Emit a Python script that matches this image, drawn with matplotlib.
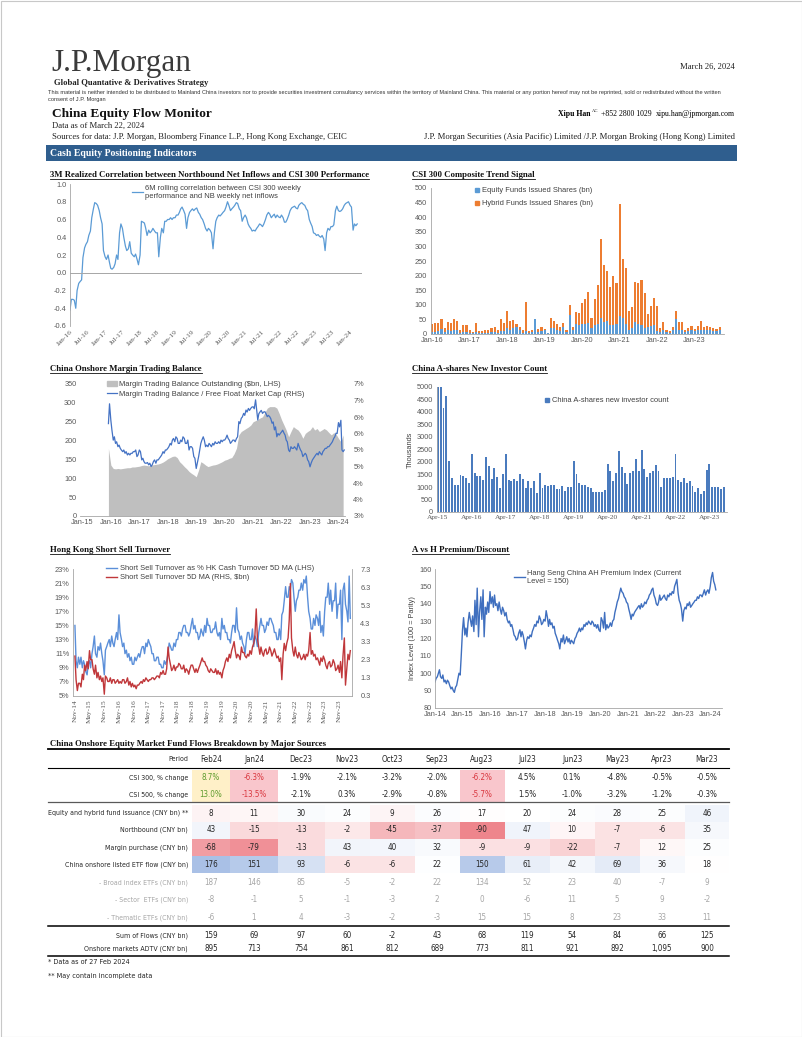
import numpy as np
import pandas as pd
import matplotlib
matplotlib.use("Agg")
import matplotlib.pyplot as plt
from matplotlib.patches import Rectangle, Patch
from matplotlib.lines import Line2D
from matplotlib.colors import LinearSegmentedColormap, TwoSlopeNorm
from matplotlib import font_manager
from matplotlib.font_manager import FontProperties
from matplotlib.textpath import TextPath

W, H = 802, 1037
SERIF = "Liberation Serif"
SANS = "Liberation Sans"

# narrow sans for the table, if one is installed
_fonts = font_manager.fontManager.ttflist
if any(f.name == "Liberation Sans Narrow" for f in _fonts):
    TABLE_FP = FontProperties(family="Liberation Sans Narrow")
elif any(f.name == "DejaVu Sans" and f.stretch == "condensed" for f in _fonts):
    TABLE_FP = FontProperties(family="DejaVu Sans", stretch="condensed")
else:
    TABLE_FP = FontProperties(family=SANS)

plt.rcParams["font.family"] = [SANS, "DejaVu Sans"]
plt.rcParams["axes.linewidth"] = 0.6
plt.rcParams["xtick.major.size"] = 0
plt.rcParams["ytick.major.size"] = 0
plt.rcParams["xtick.major.pad"] = 2.5
plt.rcParams["ytick.major.pad"] = 2.5
plt.rcParams["xtick.labelsize"] = 5.3
plt.rcParams["ytick.labelsize"] = 5.3
plt.rcParams["xtick.color"] = "#595959"
plt.rcParams["ytick.color"] = "#595959"

# ---------------- data ----------------
# 6M rolling correlation, CSI 300 weekly perf vs NB weekly net inflows (semi-monthly, from Jan-16)
corr_6m = [
    -0.42, -0.30, -0.30, -0.31, -0.40, -0.20, -0.12, -0.10, -0.08, 0.17, 0.28, 0.32, 0.35, 0.42, 0.47, 0.62, 0.72, 0.79, 0.78, 0.76, 0.70, 0.62, 0.55, 0.25,
    0.18, 0.15, 0.20, 0.12, 0.05, 0.04, 0.06, 0.10, 0.20, 0.15, 0.45, 0.55, 0.50, 0.40, 0.30, 0.25, 0.27, 0.35, 0.22, 0.20, 0.18, 0.21, 0.15, 0.09,
    0.20, 0.58, 0.57, 0.56, 0.50, 0.42, 0.48, 0.45, 0.47, 0.50, 0.47, 0.45, 0.45, 0.18, 0.40, 0.50, 0.45, 0.58, 0.58, 0.60, 0.60, 0.62, 0.60, 0.62,
    0.62, 0.65, 0.65, 0.68, 0.72, 0.74, 0.70, 0.66, 0.50, 0.62, 0.68, 0.70, 0.72, 0.70, 0.72, 0.73, 0.68, 0.66, 0.62, 0.60, 0.55, 0.50, 0.47, 0.50,
    0.48, 0.45, 0.27, 0.45, 0.58, 0.62, 0.65, 0.64, 0.66, 0.68, 0.70, 0.74, 0.80, 0.76, 0.70, 0.72, 0.74, 0.76, 0.79, 0.78, 0.72, 0.70, 0.58, 0.62,
    0.65, 0.62, 0.55, 0.52, 0.50, 0.47, 0.48, 0.47, 0.50, 0.52, 0.55, 0.54, 0.52, 0.55, 0.60, 0.65, 0.68, 0.66, 0.62, 0.64, 0.66, 0.62, 0.65, 0.63,
    0.62, 0.65, 0.62, 0.57, 0.57, 0.60, 0.65, 0.70, 0.73, 0.74, 0.75, 0.73, 0.72, 0.76, 0.78, 0.79, 0.77, 0.76, 0.72, 0.70, 0.60, 0.56, 0.52, 0.45,
    0.44, 0.42, 0.43, 0.41, 0.40, 0.42, 0.38, 0.25, 0.45, 0.50, 0.48, 0.52, 0.52, 0.54, 0.70, 0.75, 0.70, 0.69, 0.70, 0.72, 0.76, 0.78, 0.79, 0.80,
    0.76, 0.74, 0.48, 0.55, 0.53, 0.55,
]

# fund issuance, monthly from Jan-16 (bn shares)
equity_issued = [
    8, 6, 10, 18, 6, 12, 10, 15, 12, 4, 8, 8,
    5, 3, 8, 4, 3, 5, 4, 6, 8, 4, 10, 10,
    20, 15, 20, 25, 12, 5, 10, 4, 6, 52, 8, 10,
    15, 3, 22, 20, 15, 10, 25, 8, 65, 12, 35, 30,
    35, 35, 38, 20, 30, 35, 55, 40, 45, 30, 30, 35,
    60, 55, 35, 15, 20, 40, 35, 30, 20, 25, 28, 30,
    10, 8, 12, 6, 5, 12, 50, 15, 15, 8, 10, 12,
    10, 12, 15, 12, 14, 12, 10, 10, 15,
]
hybrid_issued = [
    27, 30, 28, 32, 16, 30, 26, 35, 32, 8, 22, 23,
    10, 5, 30, 6, 7, 9, 8, 16, 17, 8, 42, 26,
    60, 30, 27, 8, 12, 7, 100, 6, 9, 0, 10, 15,
    3, 2, 33, 25, 20, 15, 13, 7, 35, 13, 40, 42,
    72, 85, 107, 35, 90, 133, 270, 197, 170, 130, 168, 140,
    385, 203, 190, 63, 72, 138, 140, 155, 120, 43, 69, 92,
    85, 12, 28, 6, 5, 13, 28, 25, 27, 7, 12, 16,
    8, 16, 30, 13, 14, 12, 10, 8, 10,
]

# margin trading balance ($bn, monthly from Dec-15)
margin_balance = [
    179,
    135, 126, 125, 126, 125, 126, 127, 128, 128, 130, 130, 131,
    132, 134, 135, 134, 133, 135, 136, 137, 138, 140, 143, 147,
    152, 155, 158, 159, 155, 144, 138, 131, 125, 118, 113, 109,
    104, 122, 144, 140, 135, 131, 133, 135, 136, 138, 141, 144,
    148, 150, 153, 155, 165, 180, 215, 224, 228, 232, 236, 241,
    250, 253, 256, 260, 263, 275, 286, 290, 290, 290, 286, 272,
    255, 241, 228, 210, 224, 237, 232, 228, 219, 206, 219, 224,
    228, 237, 228, 232, 224, 228, 232, 228, 221, 215, 221, 217,
    206, 197, 215,
]
# margin balance / free float market cap (%, semi-monthly from Dec-15)
margin_ratio = [
    5.8, 6.4,
    5.9, 5.6, 5.3, 5.4, 5.2, 5.25, 5.1, 5.15, 5.05, 5.0, 4.95, 5.0, 4.9, 4.95, 4.85, 4.9, 4.85, 4.9, 4.9, 4.95, 4.95, 5.0, 4.8, 4.85,
    5.0, 4.95, 4.7, 4.75, 4.65, 4.6, 4.6, 4.62, 4.55, 4.6, 4.5, 4.55, 4.65, 4.7, 4.6, 4.7, 4.7, 4.75, 4.8, 4.85, 4.95, 4.9, 5.0, 5.0,
    5.05, 5.1, 5.2, 5.15, 5.3, 5.35, 5.25, 5.4, 5.35, 5.2, 5.2, 5.3, 5.25, 5.4, 5.35, 5.2, 5.2, 5.3, 5.0, 5.1, 5.1, 5.05, 4.8, 4.75,
    4.44, 4.6, 4.8, 5.0, 5.2, 5.3, 5.4, 5.3, 5.1, 5.15, 5.1, 5.2, 5.15, 5.1, 5.2, 5.15, 5.25, 5.2, 5.2, 5.25, 5.2, 5.3, 5.25, 5.3,
    5.3, 5.35, 5.45, 5.35, 5.3, 5.2, 5.25, 5.3, 5.3, 5.25, 5.35, 5.4, 5.86, 5.8, 5.96, 6.0, 6.11, 6.05, 6.21, 6.15, 6.26, 6.2, 6.26, 6.3,
    6.31, 6.25, 6.52, 6.2, 5.91, 6.1, 6.16, 6.2, 6.11, 6.15, 6.16, 6.1, 6.01, 6.05, 6.01, 5.95, 5.81, 5.85, 5.61, 5.7, 5.4, 5.5, 5.45, 5.5,
    5.55, 5.6, 5.51, 5.45, 5.3, 5.25, 5.0, 4.95, 5.1, 5.05, 5.05, 5.1, 5.05, 5.0, 5.2, 5.1, 5.0, 4.95, 4.8, 4.85, 4.9, 4.85, 4.7, 4.65,
    4.49, 4.6, 4.7, 4.75, 4.8, 4.85, 4.9, 4.85, 4.95, 4.9, 4.85, 4.95, 5.0, 5.05, 5.05, 5.1, 5.1, 5.15, 5.2, 5.25, 5.35, 5.4, 5.51, 5.5,
    5.83, 5.7, 5.9, 5.0, 4.95, 5.0,
]
ratio_ticks = [3.0, 3.5, 4.0, 4.5, 5.0, 5.5, 6.0, 6.5, 7.0]
ratio_tick_labels = ["3%", "4%", "4%", "5%", "5%", "6%", "6%", "7%", "7%"]

# China A-shares new investor count (thousands, monthly from Apr-15)
new_investors = [
    5000, 4980, 4150, 4650, 2050, 1380, 1080, 1070, 1480, 1430, 1350, 1150,
    2300, 1550, 1430, 1430, 1300, 2200, 1850, 1320, 1750, 1400, 960, 1530,
    2330, 1280, 1250, 1330, 1230, 1520, 1320, 960, 1230, 970, 1250, 750,
    1560, 980, 1100, 1050, 1100, 1070, 920, 920, 1050, 850, 1020, 1000,
    2030, 1530, 1150, 1070, 1100, 1000, 950, 800, 820, 820, 820, 900,
    1900, 1650, 1230, 1550, 2430, 1800, 1550, 1120, 1550, 1620, 2100, 1620,
    2480, 1700, 1420, 1550, 1630, 1880, 1620, 1010, 1350, 1380, 1360, 1420,
    2320, 1270, 1200, 1350, 1150, 1250, 1050, 800, 980, 730, 850, 1680,
    1900, 1000, 990, 990, 930, 1010,
]

# HK short sell turnover (semi-monthly from Nov-14)
short_pct = [
    15.0, 10.0, 9.0, 10.5,
    9.5, 10.5, 9.0, 10.0, 9.5, 8.5, 8.0, 9.5, 10.0, 9.0, 11.0, 12.0, 13.5, 11.0, 10.5, 12.0, 11.5, 12.5, 11.0, 10.0, 8.0, 11.5, 12.0, 12.5,
    13.0, 12.0, 13.5, 12.5, 12.0, 13.0, 14.0, 13.0, 16.5, 14.0, 13.0, 12.0, 12.5, 11.0, 11.5, 10.5, 11.0, 10.0, 10.5, 9.5, 9.5, 10.5, 10.0, 10.5,
    11.0, 10.5, 11.5, 12.0, 12.0, 11.0, 12.5, 12.0, 13.0, 12.5, 12.0, 11.0, 11.0, 10.0, 10.0, 10.5, 10.5, 9.5, 9.5, 9.0, 9.0, 10.0, 9.5, 10.0,
    11.0, 12.5, 12.0, 11.5, 11.5, 12.5, 12.0, 13.0, 13.0, 14.0, 14.0, 13.5, 14.5, 15.0, 15.0, 14.0, 14.0, 13.5, 14.0, 15.0, 16.0, 14.5, 15.0, 14.0,
    14.0, 13.0, 13.5, 14.5, 14.0, 13.5, 15.0, 14.0, 16.0, 15.0, 15.0, 14.0, 14.0, 14.5, 14.5, 15.5, 14.0, 13.5, 14.0, 13.0, 16.0, 14.5, 15.0, 14.0,
    14.0, 13.0, 13.0, 12.5, 14.0, 15.0, 15.0, 14.0, 17.5, 14.5, 14.0, 13.0, 13.5, 12.5, 12.0, 11.0, 13.0, 14.0, 14.0, 13.0, 13.0, 14.5, 12.0, 13.5,
    13.0, 12.0, 14.0, 15.0, 16.0, 15.0, 15.0, 14.0, 14.5, 15.5, 15.0, 16.0, 16.0, 15.5, 15.0, 14.0, 14.0, 13.0, 13.0, 14.5, 13.0, 16.5, 17.0, 18.5,
    20.5, 19.0, 19.0, 20.5, 20.0, 21.5, 21.0, 19.0, 17.0, 18.5, 19.0, 20.0, 20.0, 21.0, 20.0, 21.5, 21.0, 22.0, 19.0, 17.0, 16.0, 14.5, 14.5, 16.0,
    15.0, 16.5, 16.0, 15.0, 17.0, 14.0, 15.0, 13.5, 17.0, 19.0, 19.0, 21.0, 18.0, 20.0, 17.0, 18.5, 18.5, 21.0, 16.0, 18.0, 18.0, 20.0, 13.0, 20.0,
    21.0, 18.0, 17.0, 15.5, 22.0, 16.0,
]
short_amt = [
    2.5, 1.2, 0.6, 1.0,
    1.0, 0.8, 1.5, 1.2, 2.0, 1.7, 2.2, 1.8, 2.8, 2.3, 2.3, 1.8, 1.5, 2.0, 1.3, 1.6, 1.2, 1.4, 1.1, 1.3, 0.4, 1.4, 1.3, 1.1,
    1.1, 1.3, 1.0, 1.2, 1.2, 1.0, 1.1, 1.2, 1.0, 1.1, 1.0, 1.2, 1.2, 1.0, 1.1, 1.3, 0.9, 1.1, 0.8, 1.0, 0.8, 0.9, 0.7, 0.9,
    0.9, 1.0, 1.1, 1.0, 1.2, 1.1, 1.3, 1.2, 1.1, 1.2, 1.2, 1.3, 1.3, 1.2, 1.3, 1.4, 1.4, 1.3, 1.6, 1.5, 1.7, 1.5, 1.5, 1.8,
    3.0, 2.4, 2.0, 1.7, 1.8, 2.0, 1.7, 1.9, 1.9, 2.1, 2.0, 1.8, 1.8, 2.0, 1.6, 1.8, 1.7, 1.5, 1.8, 2.0, 2.0, 1.8, 1.6, 1.8,
    1.6, 1.8, 2.0, 2.2, 2.4, 2.2, 2.2, 2.0, 1.9, 1.7, 1.6, 1.8, 1.7, 1.6, 1.6, 1.8, 1.5, 1.7, 1.5, 1.6, 1.3, 1.7, 1.9, 2.2,
    2.4, 2.2, 2.6, 2.4, 2.8, 3.0, 3.3, 2.8, 2.4, 2.6, 2.5, 2.3, 3.0, 2.7, 2.7, 2.5, 2.4, 2.6, 2.5, 2.8, 2.6, 3.0, 3.2, 3.6,
    5.1, 3.5, 3.0, 2.6, 3.0, 2.7, 2.5, 2.8, 2.9, 2.6, 2.7, 3.0, 2.8, 2.5, 2.7, 2.9, 2.6, 2.4, 2.5, 2.2, 2.4, 1.2, 2.6, 3.2,
    2.8, 3.2, 3.5, 4.5, 6.5, 3.5, 2.8, 2.5, 3.0, 2.6, 2.4, 2.7, 2.5, 2.3, 2.4, 2.6, 2.3, 2.6, 2.5, 2.8, 3.8, 2.6, 2.8, 2.5,
    2.6, 2.3, 2.4, 2.2, 2.0, 2.4, 2.2, 2.5, 2.3, 2.0, 1.8, 2.1, 2.2, 1.9, 2.0, 2.3, 2.1, 1.7, 1.8, 2.0, 1.6, 2.2, 1.3, 2.5,
    3.5, 0.9, 1.8, 2.6, 2.3, 2.8,
]

# Hang Seng China AH Premium index (semi-monthly from Jan-14)
ah_premium = [
    95, 97, 98, 100, 102, 98, 97, 99, 95, 96, 94, 96, 95, 93, 91, 92, 90, 89, 92, 93, 97, 100, 99, 110,
    125, 132, 122, 126, 121, 129, 135, 131, 127, 133, 124, 142, 128, 149, 121, 135, 144, 131, 148, 121, 138, 134, 141, 135,
    147, 140, 144, 138, 145, 139, 140, 136, 141, 137, 134, 138, 136, 133, 135, 131, 129, 130, 127, 128, 125, 122, 121, 119,
    120, 123, 125, 121, 124, 122, 118, 114, 119, 121, 120, 122, 121, 124, 126, 128, 127, 130, 129, 133, 131, 128, 129, 131,
    130, 136, 132, 127, 131, 128, 129, 126, 127, 123, 121, 119, 117, 114, 120, 118, 122, 117, 119, 121, 118, 120, 117, 119,
    118, 117, 120, 121, 123, 124, 126, 124, 126, 125, 128, 127, 129, 128, 130, 129, 128, 130, 129, 127, 128, 126, 128, 125,
    124, 132, 130, 126, 135, 125, 128, 126, 127, 129, 127, 130, 131, 135, 138, 141, 143, 146, 149, 147, 146, 144, 143, 141,
    140, 137, 134, 131, 134, 133, 135, 136, 137, 138, 139, 137, 140, 138, 139, 141, 140, 142, 143, 145, 146, 148, 149, 145,
    143, 140, 139, 141, 145, 142, 143, 144, 145, 143, 142, 145, 144, 146, 145, 147, 146, 150, 152, 154, 146, 142, 140, 137,
    130, 136, 138, 137, 140, 139, 141, 138, 139, 140, 141, 142, 142, 144, 143, 145, 145, 144, 146, 148, 145, 147, 148, 146,
    150, 155, 158, 153, 151, 148,
]

# fund flow table
periods = ["Feb24", "Jan24", "Dec23", "Nov23", "Oct23", "Sep23", "Aug23", "Jul23", "Jun23", "May23", "Apr23", "Mar23"]
csi300_chg = [8.7, -6.3, -1.9, -2.1, -3.2, -2.0, -6.2, 4.5, 0.1, -4.8, -0.5, -0.5]
csi500_chg = [13.0, -13.5, -2.1, 0.3, -2.9, -0.8, -5.7, 1.5, -1.0, -3.2, -1.2, -0.3]
fund_issuance = [8, 11, 30, 24, 9, 26, 17, 20, 24, 28, 25, 46]
northbound = [43, -15, -13, -2, -45, -37, -90, 47, 10, -7, -6, 35]
margin_purchase = [-68, -79, -13, 43, 40, 32, -9, -9, -22, -7, 12, 25]
etf_flow = [176, 151, 93, -6, -6, 22, 150, 61, 42, 69, 36, 18]
broad_etf = [187, 146, 85, -5, -2, 22, 134, 52, 23, 40, -7, 9]
sector_etf = [-8, -1, 5, -1, -3, 2, 0, -6, 11, 5, 9, -2]
thematic_etf = [-6, 1, 4, -3, -2, -3, 15, 15, 8, 23, 33, 11]
sum_flows = [159, 69, 97, 60, -2, 43, 68, 119, 54, 84, 66, 125]
onshore_adtv = [895, 713, 754, 861, 812, 689, 773, 811, 921, 892, 1095, 900]

# ---------------- layout helpers ----------------
GRAY_AX = "#A6A6A6"
TXT = "#404040"


def box(l, t, r, b):
    return [l / W, 1 - b / H, (r - l) / W, (b - t) / H]


def fig_pt(x, y):
    return (x / W, 1 - y / H)


def clean(ax, left=True, bottom=True):
    for s in ["top", "right"]:
        ax.spines[s].set_visible(False)
    ax.spines["left"].set_visible(left)
    ax.spines["bottom"].set_visible(bottom)
    ax.spines["left"].set_color(GRAY_AX)
    ax.spines["bottom"].set_color(GRAY_AX)
    ax.set_facecolor("none")


def leg(ax, handles, labels, x, y, spacing=0.35, hl=1.4):
    ax.legend(handles, labels, loc="upper left", bbox_to_anchor=fig_pt(x, y),
              bbox_transform=fig.transFigure, frameon=False, fontsize=5.4,
              handlelength=hl, handletextpad=0.3, borderpad=0, borderaxespad=0,
              labelspacing=spacing, labelcolor=TXT)


fig = plt.figure(figsize=(W / 100, H / 100), dpi=100)
page = fig.add_axes([0, 0, 1, 1], zorder=0)
page.set_xlim(0, W)
page.set_ylim(H, 0)
page.axis("off")

page.add_patch(Rectangle((0.5, 0.5), W - 1, H - 1, fill=False, ec="#C8C8C8", lw=0.8))

# header
page.text(51, 71, "J.P.Morgan", family=SERIF, fontsize=22.5, color="#3A3A3A", va="baseline")
page.text(735, 68.5, "March 26, 2024", family=SERIF, fontsize=6.2, ha="right", va="baseline", color="#222222")
page.text(54, 85, "Global Quantative & Derivatives Strategy", family=SERIF, weight="bold", fontsize=6.2,
          va="baseline", color="#222222")
page.text(48, 94, "This material is neither intended to be distributed to Mainland China investors nor to provide "
          "securities investment consultancy services within the territory of Mainland China. This material or any "
          "portion hereof may not be reprinted, sold or redistributed without the written",
          fontsize=4.05, va="baseline", color="#333333")
page.text(48, 101, "consent of J.P. Morgan", fontsize=4.05, va="baseline", color="#333333")
page.text(52, 117, "China Equity Flow Monitor", family=SERIF, weight="bold", fontsize=9.6, va="baseline",
          color="#111111")
page.text(591, 115.5, "Xipu Han", family=SERIF, weight="bold", fontsize=5.6, ha="right", va="baseline")
page.text(592, 112, "AC", family=SERIF, fontsize=3.3, va="baseline")
page.text(601, 115.5, "+852 2800 1029", family=SERIF, fontsize=5.6, va="baseline")
page.text(735, 115.5, "xipu.han@jpmorgan.com", family=SERIF, fontsize=5.6, ha="right", va="baseline")
page.text(52, 128, "Data as of March 22, 2024", family=SERIF, fontsize=6.2, va="baseline", color="#222222")
page.text(52, 139, "Sources for data: J.P. Morgan, Bloomberg Finance L.P., Hong Kong Exchange, CEIC",
          family=SERIF, fontsize=6.2, va="baseline", color="#222222")
page.text(735, 139, "J.P. Morgan Securities (Asia Pacific) Limited /J.P. Morgan Broking (Hong Kong) Limited",
          family=SERIF, fontsize=6.2, ha="right", va="baseline", color="#222222")
page.add_patch(Rectangle((46, 145), 691, 16, color="#2F5E8E", lw=0))
page.text(50, 153.5, "Cash Equity Positioning Indicators", family=SERIF, weight="bold", fontsize=7,
          va="center", color="white")

underlined = []


def chart_title(x, y, s):
    t = page.text(x, y, s, family=SERIF, weight="bold", fontsize=6.3, va="baseline", color="#111111")
    underlined.append(t)


chart_title(50, 177, "3M Realized Correlation between Northbound Net Inflows and CSI 300 Performance")
chart_title(412, 177, "CSI 300 Composite Trend Signal")
chart_title(50, 371, "China Onshore Margin Trading Balance")
chart_title(412, 371, "China A-shares New Investor Count")
chart_title(50, 552, "Hong Kong Short Sell Turnover")
chart_title(412, 552, "A vs H Premium/Discount")

# ---------------- chart 1: rolling correlation ----------------
corr_dates = pd.date_range("2016-01-01", periods=len(corr_6m), freq="SMS")
ax1 = fig.add_axes(box(70, 184, 362, 326))
clean(ax1, bottom=False)
l1, = ax1.plot(corr_dates, corr_6m, color="#5B9BD5", lw=0.9)
ax1.axhline(0, color=GRAY_AX, lw=0.7)
ax1.set_ylim(-0.6, 1.0)
yt1 = np.round(np.arange(-0.6, 1.01, 0.2), 1)
ax1.set_yticks(yt1)
ax1.set_yticklabels([f"{v:.1f}" for v in yt1])
ax1.set_xlim(pd.Timestamp("2016-01-01"), pd.Timestamp("2024-05-04"))
t1 = pd.date_range("2016-01-01", "2024-01-01", freq="6MS")
ax1.set_xticks(t1)
ax1.set_xticklabels([d.strftime("%b-%y") for d in t1], rotation=45, ha="right", rotation_mode="anchor",
                    family=SERIF, fontsize=5.3)
leg(ax1, [l1], ["6M rolling correlation between CSI 300 weekly\nperformance and NB weekly net inflows"], 132, 185)

# ---------------- chart 2: fund issuance ----------------
fund_months = pd.date_range("2016-01-01", periods=len(equity_issued), freq="MS")
ax2 = fig.add_axes(box(430.5, 188, 724, 334))
clean(ax2)
idx2 = np.arange(len(equity_issued))
ax2.bar(idx2, equity_issued, width=0.68, color="#5B9BD5", lw=0)
ax2.bar(idx2, hybrid_issued, bottom=equity_issued, width=0.68, color="#ED7D31", lw=0)
ax2.set_ylim(0, 500)
ax2.set_yticks(np.arange(0, 501, 50))
ax2.set_xlim(-0.5, 93.4)
jan_idx = [i for i, d in enumerate(fund_months) if d.month == 1]
ax2.set_xticks(jan_idx)
ax2.set_xticklabels([fund_months[i].strftime("%b-%y") for i in jan_idx])
leg(ax2, [Line2D([], [], marker="s", ls="", color="#5B9BD5", markersize=3.2),
          Line2D([], [], marker="s", ls="", color="#ED7D31", markersize=3.2)],
    ["Equity Funds Issued Shares (bn)", "Hybrid Funds Issued Shares (bn)"], 474, 187, spacing=0.75, hl=0.8)

# ---------------- chart 3: margin trading ----------------
margin_months = pd.date_range("2015-12-01", periods=len(margin_balance), freq="MS")
ratio_dates = pd.date_range("2015-12-01", periods=len(margin_ratio), freq="SMS")
ax3 = fig.add_axes(box(80, 384, 345, 516))
clean(ax3, left=False)
ax3.fill_between(margin_months, margin_balance, color="#BFBFBF", lw=0)
ax3.set_ylim(0, 350)
ax3.set_yticks(np.arange(0, 351, 50))
ax3.set_xlim(pd.Timestamp("2014-12-01"), pd.Timestamp("2024-03-25"))
t3 = pd.date_range("2015-01-01", "2024-01-01", freq="12MS")
ax3.set_xticks(t3)
ax3.set_xticklabels([d.strftime("%b-%y") for d in t3])
ax3b = ax3.twinx()
for s in ax3b.spines.values():
    s.set_visible(False)
ax3b.set_facecolor("none")
l3, = ax3b.plot(ratio_dates, margin_ratio, color="#4472C4", lw=0.9)
ax3b.set_ylim(3, 7)
ax3b.set_yticks(ratio_ticks)
ax3b.set_yticklabels(ratio_tick_labels)
ax3b.tick_params(axis="y", pad=6)
leg(ax3b, [Patch(color="#BFBFBF"), l3],
    ["Margin Trading Balance Outstanding ($bn, LHS)", "Margin Trading Balance / Free Float Market Cap (RHS)"],
    107, 381, spacing=0.3, hl=1.3)

# ---------------- chart 4: new investor count ----------------
inv_months = pd.date_range("2015-04-01", periods=len(new_investors), freq="MS")
ax4 = fig.add_axes(box(436.7, 387, 727, 512))
clean(ax4)
idx4 = np.arange(len(new_investors))
ax4.bar(idx4, new_investors, width=0.68, color="#4A7BBE", lw=0)
ax4.set_ylim(0, 5000)
ax4.set_yticks(np.arange(0, 5001, 500))
ax4.set_xlim(-0.4, 102.2)
apr_idx = [i for i, d in enumerate(inv_months) if d.month == 4]
ax4.set_xticks(apr_idx)
ax4.set_xticklabels([inv_months[i].strftime("%b-%y") for i in apr_idx], family=SERIF)
ax4.set_ylabel("Thousands", fontsize=5.3, color="#404040", labelpad=2)
leg(ax4, [Line2D([], [], marker="s", ls="", color="#4A7BBE", markersize=3.2)],
    ["China A-shares new investor count"], 544, 397, hl=0.8)

# ---------------- chart 5: HK short sell ----------------
short_dates = pd.date_range("2014-11-01", periods=len(short_pct), freq="SMS")
ax5 = fig.add_axes(box(73, 569, 352, 696))
clean(ax5)
l5a, = ax5.plot(short_dates, short_pct, color="#5B8FD9", lw=1.0)
ax5.set_ylim(5, 23)
ax5.set_yticks(np.arange(5, 24, 2))
ax5.set_yticklabels([f"{v}%" for v in range(5, 24, 2)])
ax5.set_xlim(pd.Timestamp("2014-10-08"), pd.Timestamp("2024-04-05"))
t5 = pd.date_range("2014-11-01", "2023-11-01", freq="6MS")
ax5.set_xticks(t5)
ax5.set_xticklabels([d.strftime("%b-%y") for d in t5], rotation=90, family=SERIF)
ax5b = ax5.twinx()
for s in ["top", "left", "bottom"]:
    ax5b.spines[s].set_visible(False)
ax5b.spines["right"].set_color(GRAY_AX)
ax5b.set_facecolor("none")
l5b, = ax5b.plot(short_dates, short_amt, color="#C0373A", lw=1.0)
ax5b.set_ylim(0.3, 7.3)
yt5 = np.round(np.arange(0.3, 7.31, 1.0), 1)
ax5b.set_yticks(yt5)
ax5b.set_yticklabels([f"{v:.1f}" for v in yt5])
ax5b.tick_params(axis="y", pad=6)
leg(ax5b, [l5a, l5b], ["Short Sell Turnover as % HK Cash Turnover 5D MA (LHS)",
                        "Short Sell Turnover 5D MA (RHS, $bn)"], 106, 565, spacing=0.25, hl=1.5)

# ---------------- chart 6: AH premium ----------------
ah_dates = pd.date_range("2014-01-01", periods=len(ah_premium), freq="SMS")
ax6 = fig.add_axes(box(435, 569, 722, 708))
clean(ax6)
l6, = ax6.plot(ah_dates, ah_premium, color="#3F6FBF", lw=1.0)
ax6.set_ylim(80, 160)
ax6.set_yticks(np.arange(80, 161, 10))
ax6.set_xlim(pd.Timestamp("2014-01-01"), pd.Timestamp("2024-06-05"))
t6 = pd.date_range("2014-01-01", "2024-01-01", freq="12MS")
ax6.set_xticks(t6)
ax6.set_xticklabels([d.strftime("%b-%y") for d in t6])
ax6.set_ylabel("Index Level (100 = Parity)", fontsize=5.3, color="#404040", labelpad=2)
leg(ax6, [l6], ["Hang Seng China AH Premium Index (Current\nLevel = 150)"], 514, 570, hl=1.4)

# ---------------- table ----------------
page.text(50, 746.5, "China Onshore Equity Market Fund Flows Breakdown by Major Sources",
          family=SERIF, weight="bold", fontsize=6.3, va="baseline", color="#111111")

col_x = [211, 254, 301, 347, 392, 437, 482, 527, 572, 617, 662, 707]
edges = [192, 230, 278, 325, 370, 415, 459.5, 504.5, 549.5, 594.5, 639.5, 684.5, 729]
LBL_X = 188

row_labels = ["Period", "CSI 300, % change", "CSI 500, % change", "Equity and hybrid fund issuance (CNY bn) **",
              "Northbound (CNY bn)", "Margin purchase (CNY bn)", "China onshore listed ETF flow (CNY bn)",
              "- Broad index ETFs (CNY bn)", "- Sector  ETFs (CNY bn)", "- Thematic ETFs (CNY bn)",
              "Sum of Flows (CNY bn)", "Onshore markets ADTV (CNY bn)"]
# size the row labels so the longest one spans ~140 px, like the reference
_w1 = max(TextPath((0, 0), s, size=1, prop=TABLE_FP).get_extents().width for s in row_labels)
LFS = min(6.2, 140 / (_w1 * 100 / 72))
VFS = 5.8


def tcell(x, y, s, color="#262626", ha="center", size=VFS):
    page.text(x, y, s, fontproperties=TABLE_FP, fontsize=size, ha=ha, va="center", color=color)


page.plot([48, 729], [749, 749], color="black", lw=1.3)
tcell(LBL_X, 759, row_labels[0], ha="right", size=LFS)
for x, p in zip(col_x, periods):
    tcell(x, 759, p)
page.plot([48, 729], [767.5, 767.5], color="black", lw=0.8)

# CSI rows
for yc, label, vals in [(778, row_labels[1], csi300_chg), (794.5, row_labels[2], csi500_chg)]:
    tcell(LBL_X, yc, label, ha="right", size=LFS)
    vmax = max(vals)
    for j, v in enumerate(vals):
        fc, tc = None, "#262626"
        if v == vmax:
            fc, tc = "#FFF0C8", "#5E9B2E"
        elif v <= -5:
            fc, tc = "#F9C6CC", "#D9363E"
        if fc:
            page.add_patch(Rectangle((edges[j], yc - 8.3), edges[j + 1] - edges[j], 16.6, color=fc, lw=0))
        tcell(col_x[j], yc, f"{v:.1f}%", color=tc)
page.plot([48, 729], [802, 802], color="#595959", lw=0.9)

# heat-mapped flow rows
heat_rows = [(813, row_labels[3], fund_issuance),
             (830, row_labels[4], northbound),
             (847.5, row_labels[5], margin_purchase),
             (864.5, row_labels[6], etf_flow)]
block = np.array([r[2] for r in heat_rows], dtype=float)
heat_cmap = LinearSegmentedColormap.from_list("flows", ["#EE858C", "#FFFFFF", "#A9C0E6"])
heat_norm = TwoSlopeNorm(vmin=block.min(), vcenter=np.median(block), vmax=block.max())
for yc, label, vals in heat_rows:
    tcell(LBL_X, yc, label, ha="right", size=LFS)
    for j, v in enumerate(vals):
        page.add_patch(Rectangle((edges[j], yc - 8.5), edges[j + 1] - edges[j], 17,
                                 color=heat_cmap(heat_norm(v)), lw=0))
        tcell(col_x[j], yc, f"{v:,}")

for yc, label, vals in [(882.5, row_labels[7], broad_etf),
                        (900, row_labels[8], sector_etf),
                        (917.5, row_labels[9], thematic_etf)]:
    tcell(LBL_X, yc, label, color="#A6A6A6", ha="right", size=LFS)
    for j, v in enumerate(vals):
        tcell(col_x[j], yc, f"{v:,}", color="#A6A6A6")
page.plot([48, 729], [926, 926], color="black", lw=1.1)

for yc, label, vals in [(935.5, row_labels[10], sum_flows),
                        (948.5, row_labels[11], onshore_adtv)]:
    tcell(LBL_X, yc, label, ha="right", size=LFS)
    for j, v in enumerate(vals):
        tcell(col_x[j], yc, f"{v:,}")
page.plot([48, 729], [956, 956], color="black", lw=1.1)

tcell(48, 962, "* Data as of 27 Feb 2024", ha="left", size=5.2)
tcell(48, 976, "** May contain incomplete data", ha="left", size=5.2)

# underline the chart titles
fig.canvas.draw()
for t in underlined:
    bb = t.get_window_extent()
    x0, y0 = t.get_position()
    page.plot([x0, x0 + bb.width], [y0 + 1.6, y0 + 1.6], color="#111111", lw=0.6)

fig.savefig("out.png", dpi=100)
